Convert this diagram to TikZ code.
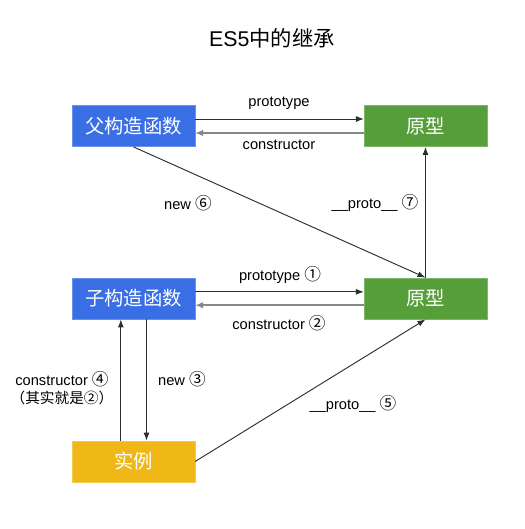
\documentclass[tikz,border=0pt]{standalone}
\usepackage{fontspec}
\setmainfont{Liberation Sans}
\newfontfamily\cjk{Noto Sans CJK SC}
\usepackage{xcolor}
\usetikzlibrary{arrows.meta,shapes,calc,positioning}
\definecolor{boxblue}{RGB}{57,110,228}
\definecolor{boxgreen}{RGB}{86,158,58}
\definecolor{boxyellow}{RGB}{239,184,22}
\definecolor{linedark}{RGB}{45,45,45}
\definecolor{linegray}{RGB}{135,135,135}
\newcommand{\circnum}[1]{{\cjk\fontsize{12.5}{13}\selectfont #1}}

\begin{document}
\begin{tikzpicture}[x=0.75pt,y=-0.75pt]
	\tikzstyle{every node}=[font=\fontsize{11}{13}\selectfont]
	\tikzstyle{box}=[minimum width=92pt, minimum height=31pt, inner sep=0pt, text=white, font=\cjk\fontsize{14.5}{17}\selectfont]
	\tikzstyle{link}=[draw=linedark, line width=0.7pt, -{Latex[length=6pt,width=4.5pt]}]
	\tikzstyle{back}=[draw=linegray, line width=1.4pt, -{Latex[length=6pt,width=5pt]}]
	\useasboundingbox (0,0) rectangle (525,529);
	\node (title) at (272,38) [font=\fontsize{16}{19}\selectfont] {ES5\cjk{中的继承}};
	% boxes
	\node (fu) at (133.5,126) [box, fill=boxblue, draw=boxblue!75!white] {父构造函数};
	\node (protoA) at (425.5,126) [box, fill=boxgreen, draw=boxgreen!75!white] {原型};
	\node (zi) at (133.5,298.5) [box, fill=boxblue, draw=boxblue!75!white] {子构造函数};
	\node (protoB) at (425.5,298.5) [box, fill=boxgreen, draw=boxgreen!75!white] {原型};
	\node (shili) at (133.5,461.5) [box, fill=boxyellow, draw=boxyellow!75!white] {实例};
	% connectors
	\draw [link] ([yshift=5.25pt]fu.east) -- ([yshift=5.25pt]protoA.west);
	\draw [back] ([yshift=-5.25pt]protoA.west) -- ([yshift=-5.25pt]fu.east);
	\draw [link] (fu.south) -- (protoB.north);
	\draw [link] (protoB.north) -- (protoA.south);
	\draw [link] ([yshift=5pt]zi.east) -- ([yshift=5pt]protoB.west);
	\draw [back] ([yshift=-5pt]protoB.west) -- ([yshift=-5pt]zi.east);
	\draw [link] ([xshift=9.75pt]zi.south) -- ([xshift=9.75pt]shili.north);
	\draw [link] ([xshift=-9.5pt]shili.north) -- ([xshift=-9.5pt]zi.south);
	\draw [link] (shili.east) -- (protoB.south);
	% labels
	\node (lprotoA) at (279,103) {prototype};
	\node (lconA) at (279,145) {constructor};
	\node (lnewA) at (188,203) {new \circnum{⑥}};
	\node (lprotoAB) at (375,203) {\_\_proto\_\_ \circnum{⑦}};
	\node (lprotoB) at (280,275) {prototype \circnum{①}};
	\node (lconB) at (279,323) {constructor \circnum{②}};
	\node (lconC) at (62,379) {constructor \circnum{④}};
	\node (lnote) at (62,398) {\cjk{（其实就是②）}};
	\node (lnewB) at (182,379) {new \circnum{③}};
	\node (lprotoC) at (353,404) {\_\_proto\_\_ \circnum{⑤}};
\end{tikzpicture}
\end{document}
